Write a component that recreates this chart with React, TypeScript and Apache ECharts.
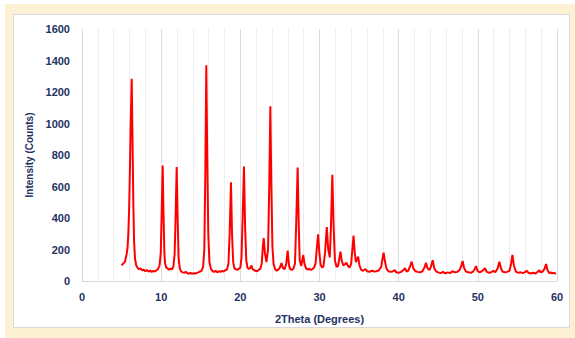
import React, { useEffect, useRef } from "react";
import * as echarts from "echarts";

const twoTheta: number[] = [
  5.0, 5.15, 5.3, 5.45, 5.55, 5.65, 5.75, 5.85, 5.95, 6.05, 6.15, 6.28, 6.38, 6.48, 6.58, 6.7, 6.85, 7.0,
  7.2, 7.4, 7.6, 7.8, 8.0, 8.2, 8.4, 8.6, 8.8, 9.0, 9.2, 9.4, 9.6, 9.8, 9.95, 10.05, 10.19, 10.3, 10.4, 10.5,
  10.65, 10.8, 11.0, 11.2, 11.4, 11.55, 11.7, 11.82, 11.96, 12.08, 12.2, 12.35, 12.5, 12.7, 12.9, 13.1, 13.3,
  13.5, 13.7, 13.9, 14.1, 14.3, 14.5, 14.7, 14.9, 15.1, 15.3, 15.45, 15.58, 15.7, 15.82, 15.95, 16.1, 16.3,
  16.5, 16.7, 16.9, 17.1, 17.3, 17.5, 17.7, 17.9, 18.1, 18.3, 18.5, 18.65, 18.82, 18.95, 19.1, 19.25, 19.4,
  19.6, 19.8, 20.0, 20.15, 20.3, 20.46, 20.6, 20.75, 20.9, 21.05, 21.2, 21.4, 21.55, 21.7, 21.9, 22.1, 22.3,
  22.5, 22.7, 22.85, 22.95, 23.1, 23.3, 23.5, 23.65, 23.79, 23.92, 24.05, 24.2, 24.4, 24.6, 24.8, 25.0, 25.2,
  25.4, 25.6, 25.8, 25.98, 26.15, 26.3, 26.5, 26.7, 26.9, 27.05, 27.24, 27.38, 27.5, 27.7, 27.85, 27.95, 28.1,
  28.3, 28.5, 28.7, 28.9, 29.1, 29.3, 29.5, 29.65, 29.82, 29.98, 30.15, 30.35, 30.5, 30.7, 30.92, 31.1, 31.3,
  31.45, 31.62, 31.78, 31.95, 32.15, 32.35, 32.5, 32.65, 32.8, 33.0, 33.2, 33.4, 33.6, 33.8, 34.0, 34.15, 34.3,
  34.45, 34.6, 34.75, 34.88, 35.05, 35.25, 35.5, 35.8, 36.0, 36.3, 36.6, 36.9, 37.2, 37.5, 37.8, 37.95, 38.1,
  38.25, 38.45, 38.7, 39.0, 39.3, 39.5, 39.7, 40.0, 40.3, 40.6, 40.8, 41.0, 41.2, 41.45, 41.64, 41.85, 42.1,
  42.4, 42.7, 43.0, 43.25, 43.45, 43.65, 43.9, 44.1, 44.3, 44.5, 44.75, 45.0, 45.3, 45.6, 45.9, 46.2, 46.5,
  46.8, 47.1, 47.4, 47.7, 47.9, 48.08, 48.25, 48.5, 48.8, 49.1, 49.4, 49.6, 49.77, 49.95, 50.2, 50.5, 50.7,
  50.9, 51.1, 51.4, 51.7, 51.95, 52.2, 52.5, 52.72, 52.9, 53.1, 53.4, 53.7, 54.0, 54.2, 54.37, 54.55, 54.8,
  55.1, 55.4, 55.7, 56.0, 56.17, 56.4, 56.7, 57.0, 57.3, 57.6, 57.76, 57.95, 58.2, 58.45, 58.62, 58.8, 59.0,
  59.2, 59.4, 59.6, 59.87,
];

const counts: number[] = [
  100, 108, 115, 125, 150, 175, 210, 300, 450, 700, 1000, 1284, 900, 500, 250, 140, 100, 85,
  75, 80, 68, 72, 62, 70, 60, 66, 58, 64, 60, 68, 75, 100, 180, 400, 733, 420, 180, 110,
  85, 80, 72, 78, 75, 95, 170, 400, 724, 400, 150, 80, 62, 55, 52, 58, 50,
  46, 52, 45, 50, 46, 52, 55, 60, 65, 90, 200, 700, 1369, 800, 300, 120, 75,
  62, 58, 65, 55, 62, 58, 64, 60, 68, 72, 110, 300, 627, 300, 120, 80, 75,
  70, 78, 85, 150, 420, 727, 350, 130, 85, 78, 80, 98, 75, 70, 65, 62, 70,
  75, 110, 220, 273, 180, 120, 200, 600, 1110, 600, 220, 110, 75, 65, 72, 85, 114,
  80, 75, 110, 193, 100, 75, 70, 78, 110, 350, 720, 350, 130, 95, 140, 165, 110,
  80, 72, 78, 70, 75, 85, 110, 200, 297, 180, 100, 85, 95, 180, 343, 200, 150,
  350, 674, 350, 130, 90, 95, 140, 186, 130, 100, 105, 116, 95, 85, 110, 200, 288,
  180, 120, 140, 155, 100, 72, 65, 75, 62, 58, 65, 60, 62, 68, 90, 140, 180,
  130, 80, 62, 58, 62, 70, 55, 52, 58, 70, 81, 60, 65, 95, 123, 80, 62,
  58, 55, 62, 85, 116, 80, 70, 95, 132, 80, 60, 55, 50, 58, 48, 55, 50,
  62, 55, 58, 70, 95, 127, 85, 60, 55, 52, 60, 75, 95, 65, 55, 62, 70,
  81, 60, 52, 55, 65, 55, 80, 123, 85, 60, 55, 58, 65, 110, 165, 100, 60,
  52, 55, 50, 58, 65, 52, 48, 52, 48, 60, 68, 55, 60, 80, 108, 70, 50,
  55, 48, 52, 45,
];

const yTicks = { min: 0, max: 1600, interval: 200 };
const xTicks = { min: 0, max: 60, interval: 10 };

const labelColor = "#1f3263";
const fontFamily = "'Liberation Sans', Arial, sans-serif";

export default function App() {
  const ref = useRef<HTMLDivElement>(null);
  useEffect(() => {
    document.body.style.margin = "0";
    if (!ref.current) return;
    const chart = echarts.init(ref.current, undefined, { renderer: "svg" });
    const data = twoTheta.map((x, i) => [x, counts[i]]);
    chart.setOption({
      animation: false,
      backgroundColor: "#ffffff",
      graphic: [
        {
          type: "rect",
          z: -10,
          shape: { x: 5, y: 4, width: 570, height: 334 },
          style: { fill: "#fdf1d3" },
          silent: true,
        },
        {
          type: "rect",
          z: -9,
          shape: { x: 13.5, y: 14.5, width: 556, height: 313 },
          style: { fill: "#ffffff", stroke: "#d9d9d9", lineWidth: 1 },
          silent: true,
        },
      ],
      grid: { left: 82, right: 18, top: 29, bottom: 57 },
      xAxis: {
        type: "value",
        min: xTicks.min,
        max: xTicks.max,
        interval: xTicks.interval,
        name: "2Theta (Degrees)",
        nameLocation: "middle",
        nameGap: 32,
        nameTextStyle: { color: labelColor, fontWeight: "bold", fontSize: 11, fontFamily },
        axisLine: { show: true, lineStyle: { color: "#d9d9d9", width: 1 } },
        axisTick: { show: false },
        axisLabel: { color: labelColor, fontWeight: "bold", fontSize: 11, fontFamily, margin: 10 },
        splitLine: { show: true, lineStyle: { color: "#dcdcdc", width: 1 } },
        minorTick: { show: false, splitNumber: 5 },
        minorSplitLine: { show: true, lineStyle: { color: "#eeeeee", width: 1 } },
      },
      yAxis: {
        type: "value",
        min: yTicks.min,
        max: yTicks.max,
        interval: yTicks.interval,
        name: "Intensity (Counts)",
        nameLocation: "middle",
        nameGap: 44,
        nameTextStyle: { color: labelColor, fontWeight: "bold", fontSize: 10, fontFamily },
        axisLine: { show: true, lineStyle: { color: "#d9d9d9", width: 1 } },
        axisTick: { show: false },
        axisLabel: {
          color: labelColor,
          fontWeight: "bold",
          fontSize: 11,
          fontFamily,
          margin: 12,
          formatter: (v: number) => String(v),
        },
        splitLine: { show: false },
      },
      series: [
        {
          type: "line",
          data,
          showSymbol: false,
          symbol: "none",
          lineStyle: { color: "#ff0000", width: 2 },
          itemStyle: { color: "#ff0000" },
        },
      ],
    });
    return () => chart.dispose();
  }, []);
  return <div ref={ref} style={{ width: 575, height: 338 }} />;
}
